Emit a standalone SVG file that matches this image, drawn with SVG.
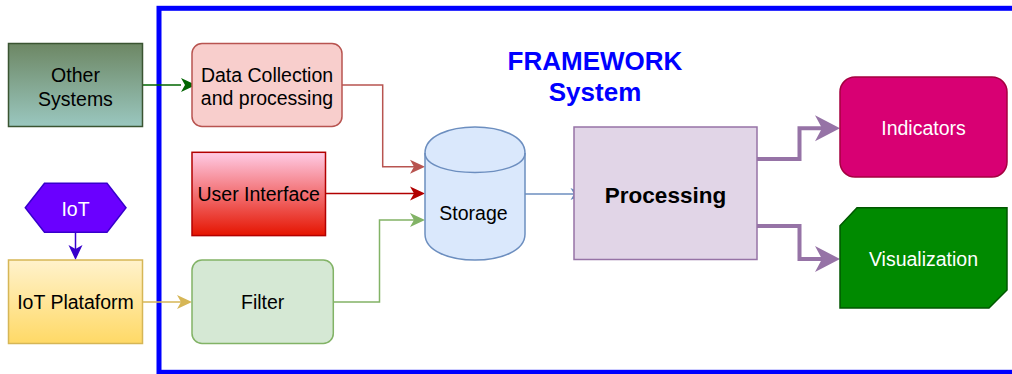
<svg xmlns="http://www.w3.org/2000/svg" width="1012" height="374" viewBox="0 0 1012 374">
  <style>
    text { font-family: "Liberation Sans", Arial, Helvetica, sans-serif; font-size: 19.5px; fill: #000; text-anchor: middle; }
    .white { fill: #fff; }
    .title { font-size: 26px; font-weight: bold; fill: #0000ff; }
    .bold { font-size: 22.5px; font-weight: bold; }
    .edge { fill: none; stroke-width: 1.5; }
    .thick { fill: none; stroke: #9673a6; stroke-width: 4; }
    .node { stroke-width: 1.5; }
  </style>
  <defs>
    <linearGradient id="gOther" x1="0" y1="0" x2="0" y2="1">
      <stop offset="0" stop-color="#6d8764"/>
      <stop offset="1" stop-color="#9ac7bf"/>
    </linearGradient>
    <linearGradient id="gUser" x1="0" y1="0" x2="0" y2="1">
      <stop offset="0" stop-color="#ffcce6"/>
      <stop offset="1" stop-color="#e51400"/>
    </linearGradient>
    <linearGradient id="gIoTP" x1="0" y1="0" x2="0" y2="1">
      <stop offset="0" stop-color="#fff2cc"/>
      <stop offset="1" stop-color="#ffd966"/>
    </linearGradient>
  </defs>

  <rect width="1012" height="374" fill="#fff"/>

  <!-- framework boundary -->
  <g id="framework">
    <rect x="159" y="8.3" width="900" height="364" fill="none" stroke="#0000ff" stroke-width="5"/>
    <text class="title" x="595" y="69.5">FRAMEWORK</text>
    <text class="title" x="595" y="100.5">System</text>
  </g>

  <!-- connectors -->
  <g id="connectors">
    <path class="edge" stroke="#006600" d="M142,85 H181"/>
    <path class="edge" stroke="#b85450" d="M342,85 H382.7 V166.7 H414"/>
    <path class="edge" stroke="#b20000" d="M325,193.5 H414"/>
    <path class="edge" stroke="#82b366" d="M333,302 H379.5 V220 H414"/>
    <path class="edge" stroke="#d6b656" d="M142,302 H181"/>
    <path class="edge" stroke="#3700cc" d="M75.5,232.3 V249"/>
    <path class="edge" stroke="#6c8ebf" d="M525,194 H574"/>
    <path class="thick" d="M757,159 H799.5 V128.3 H822"/>
    <path class="thick" d="M757,226 H799.5 V259 H822"/>
    <!-- arrowheads -->
    <path d="M181,78 L196,85 L181,92 L185,85 Z" fill="#006600"/>
    <path d="M410,159.7 L425,166.7 L410,173.7 L414,166.7 Z" fill="#b85450"/>
    <path d="M410,186.5 L425,193.5 L410,200.5 L414,193.5 Z" fill="#b20000"/>
    <path d="M410,213 L425,220 L410,227 L414,220 Z" fill="#82b366"/>
    <path d="M177,295 L192,302 L177,309 L181,302 Z" fill="#d6b656"/>
    <path d="M68.5,245 L75.5,260 L82.5,245 L75.5,249 Z" fill="#3700cc"/>
    <path d="M570.5,188 L585,194 L570.5,200 L574,194 Z" fill="#6c8ebf"/>
    <path d="M815,115.3 L840,128.3 L815,141.3 L822,128.3 Z" fill="#9673a6"/>
    <path d="M815,246 L840,259 L815,272 L822,259 Z" fill="#9673a6"/>
  </g>

  <!-- nodes -->
  <g id="other-systems">
    <rect class="node" x="8.5" y="43.5" width="134" height="83" fill="url(#gOther)" stroke="#3a5431"/>
    <text x="75.5" y="82.3">Other</text>
    <text x="75.5" y="105.5">Systems</text>
  </g>
  <g id="data-collection">
    <rect class="node" x="192" y="43.5" width="150" height="83" rx="10" fill="#f8cecc" stroke="#b85450"/>
    <text x="267" y="82">Data Collection</text>
    <text x="267" y="105.3">and processing</text>
  </g>
  <g id="user-interface">
    <rect class="node" x="192" y="152.3" width="133.5" height="83.3" fill="url(#gUser)" stroke="#b20000"/>
    <text x="258.7" y="200.5">User Interface</text>
  </g>
  <g id="iot">
    <polygon class="node" points="25.3,207.8 44.5,183.3 107,183.3 126,207.8 107,232.3 44.5,232.3" fill="#6a00ff" stroke="#3700cc"/>
    <text class="white" x="75.5" y="215.5">IoT</text>
  </g>
  <g id="iot-platform">
    <rect class="node" x="8.5" y="260" width="134" height="83.5" fill="url(#gIoTP)" stroke="#d6b656"/>
    <text x="75.5" y="309">IoT Plataform</text>
  </g>
  <g id="filter">
    <rect class="node" x="192" y="260" width="141.3" height="83.5" rx="10" fill="#d5e8d4" stroke="#82b366"/>
    <text x="262.7" y="309">Filter</text>
  </g>
  <g id="storage">
    <path class="node" d="M425,153 C425,118.3 525,118.3 525,153 V234 C525,268.7 425,268.7 425,234 Z" fill="#dae8fc" stroke="#6c8ebf"/>
    <path class="node" d="M425,153 C425,179 525,179 525,153" fill="none" stroke="#6c8ebf"/>
    <text x="473.5" y="220">Storage</text>
  </g>
  <g id="processing">
    <rect class="node" x="574" y="127" width="183" height="132.5" fill="#e1d5e7" stroke="#9673a6"/>
    <text class="bold" x="665.5" y="202.5">Processing</text>
  </g>
  <g id="indicators">
    <rect class="node" x="840" y="77" width="167" height="100" rx="15" fill="#d80073" stroke="#a50040"/>
    <text class="white" x="923.5" y="134.5">Indicators</text>
  </g>
  <g id="visualization">
    <path class="node" d="M857,207.7 H1007 V290 L989,308 H840 V225.7 Z" fill="#008a00" stroke="#005700"/>
    <text class="white" x="923.5" y="265.5">Visualization</text>
  </g>
</svg>
